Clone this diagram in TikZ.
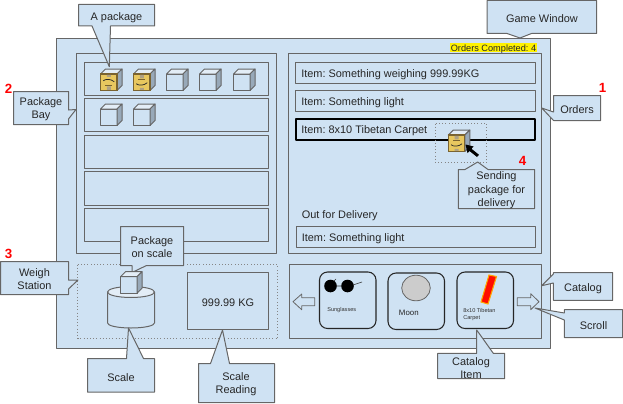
\documentclass[tikz,border=0pt]{standalone}
\usepackage{fontspec}
\setmainfont{Liberation Sans}
\frenchspacing
\definecolor{panelblue}{HTML}{CFE2F3}
\definecolor{edgegray}{HTML}{666666}
\definecolor{lidblue}{HTML}{E3EDF6}
\definecolor{sideblue}{HTML}{98A9B9}
\definecolor{crateyellow}{HTML}{E8C75F}
\definecolor{cratebrown}{HTML}{7A6330}
\definecolor{moongray}{HTML}{CCCCCC}
\newcommand{\crate}[2]{
	\begin{scope}[shift={(#1,#2)}]
		\draw[panel] (0,0) rectangle (16.5,16.5);
		\draw[panel, fill=lidblue] (0,0) -- (5,-5) -- (21.5,-5) -- (16.5,0) -- cycle;
		\draw[panel, fill=sideblue] (16.5,0) -- (21.5,-5) -- (21.5,11.5) -- (16.5,16.5) -- cycle;
	\end{scope}
}
\newcommand{\crateface}[3]{
	\begin{scope}[shift={(#1,#2)}]
		\draw[cratebrown, line width=0.9pt, fill=crateyellow] (0,0) rectangle (16.5,16.5);
		\begin{scope}[shift={(8.25,8.25)}, yscale=#3]
			\fill[cratebrown!60] (-2,-7.5) rectangle (2,-4) (-2,5.5) rectangle (2,7.5);
			\draw[cratebrown, line width=0.5pt] (-3.5,-3) -- (3.5,-3);
			\draw[black!85, line width=0.55pt] (-5.5,1.5) .. controls (-3,3.5) and (2,3.5) .. (5.5,0.5);
		\end{scope}
	\end{scope}
}
\begin{document}
\begin{tikzpicture}[x=0.75pt, y=-0.75pt,
	panel/.style={draw=edgegray, fill=panelblue, line width=0.75pt, line join=round},
	dotbox/.style={draw=edgegray!80, dotted, line width=0.4pt},
	txt/.style={font=\fontsize{8.2}{9.9}\selectfont, text=black!85, inner sep=0pt, align=center, yshift=-1pt},
	itemtxt/.style={txt, anchor=west},
	tiny/.style={font=\fontsize{4.2}{5.6}\selectfont, text=black!80, inner sep=0pt, align=left, anchor=west},
	marker/.style={font=\fontsize{10}{10}\bfseries\selectfont, text=red, inner sep=0pt}]
	\useasboundingbox (0,0) rectangle (623,403);

	% window and panels
	\draw[panel] (56.5,38.5) rectangle (550,348);
	\draw[panel] (76.5,54) rectangle (276,253);
	\draw[panel] (288,54) rectangle (541.7,253);
	\draw[panel] (289,264.5) rectangle (541.7,338);
	\draw[panel] (84,62.5) rectangle (268,95.5);
	\draw[panel] (84,98.5) rectangle (268,131);
	\draw[panel] (84,135) rectangle (268,168);
	\draw[panel] (84,171) rectangle (268,205);
	\draw[panel] (84,208) rectangle (268,241);
	\fill[yellow] (450,42.7) rectangle (537,52.3);
	\node[txt, font=\fontsize{6.9}{8}\selectfont] (ordersDone) at (493.5,47.5) {Orders Completed: 4};

	% orders
	\draw[panel] (295.5,62) rectangle (535,83);
	\draw[panel] (295.5,90) rectangle (535,111.5);
	\draw[panel, draw=black, line width=1.5pt] (295.5,118.5) rectangle (535,140);
	\draw[panel] (296.5,226.5) rectangle (535,247.5);
	\node[itemtxt] (itemHeavy) at (301,73) {Item: Something weighing 999.99KG};
	\node[itemtxt] (itemLight) at (301,101) {Item: Something light};
	\node[itemtxt] (itemCarpet) at (301,129.5) {Item: 8x10 Tibetan Carpet};
	\node[itemtxt] (outLabel) at (301.5,214) {Out for Delivery};
	\node[itemtxt] (itemOut) at (301.5,237.5) {Item: Something light};
	\draw[dotbox] (435.5,123.5) rectangle (486.5,162.5);
	\crate{448.3}{135}
	\crateface{448.3}{135}{1}
	\fill[black] (465.5,144.5) -- (473.5,146.5) -- (471.5,148.8) -- (479,154.8) -- (477,157) -- (469.5,151) -- (467.5,153) -- cycle;

	% package bay
	\foreach \xpos in {166.5,199.5,233.5} {
		\crate{\xpos}{74}
	}
	\crate{100.5}{74}
	\crateface{100.5}{74}{-1}
	\crate{133.5}{74}
	\crateface{133.5}{74}{1}
	\foreach \xpos in {100.5,133.5} {
		\crate{\xpos}{109}
	}

	% weigh station
	\draw[dotbox] (77.5,264.5) rectangle (277.5,338.5);
	\draw[panel] (107.5,292) -- (107.5,323) arc[start angle=180, end angle=360, x radius=23.5, y radius=-5] -- (154.5,292);
	\draw[panel, fill=lidblue] (131,292) ellipse[x radius=23.5, y radius=5.5];
	\draw[panel] (187.5,272.5) rectangle (268.5,329.5);
	\node[txt] (weight) at (228,301) {999.99 KG};

	% catalog
	\draw[panel, line width=0.6pt] (293,301.7) -- (301.7,294) -- (301.7,297.7) -- (314.7,297.7) -- (314.7,305.7) -- (301.7,305.7) -- (301.7,309.7) -- cycle;
	\draw[panel, line width=0.6pt] (539,301.7) -- (530.7,293.7) -- (530.7,297.7) -- (517.3,297.7) -- (517.3,305.7) -- (530.7,305.7) -- (530.7,309.7) -- cycle;
	\foreach \xleft/\ytop in {319.5/272, 388/273, 457/272} {
		\draw[draw=black!85, line width=0.8pt, rounded corners=6pt] (\xleft,\ytop) rectangle ++(56.5,56.5);
	}
	\fill[black] (330.5,286) circle (6.3) (347.5,286) circle (6.3);
	\draw[black!80, line width=0.45pt] (336,286) -- (342,286) (353,285) -- (362,282) (334,281) -- (336,279);
	\node[tiny] (sunglasses) at (327,309.7) {Sunglasses};
	\draw[edgegray, fill=moongray, line width=0.6pt] (416,288) ellipse[x radius=14.3, y radius=12.8];
	\node[txt, font=\fontsize{5.9}{7}\selectfont, anchor=west] (moon) at (398.7,311) {Moon};
	\draw[orange!70!yellow, fill=red!90!orange, line width=0.8pt] (489,275) -- (496.5,276.5) -- (488,304) -- (481,302) -- cycle;
	\node[tiny] (carpet) at (463,314.5) {8x10 Tibetan\\Carpet};

	% callouts
	\draw[panel] (78.5,4.5) -- (154.5,4.5) -- (154.5,26) -- (110.5,26) -- (109.3,66.7) -- (92,26) -- (78.5,26) -- cycle;
	\node[txt] (packageTag) at (116.5,16) {A package};
	\draw[panel] (487,0.5) -- (596.5,0.5) -- (596.5,33.5) -- (531.5,33.5) -- (520,38) -- (507,33.5) -- (487,33.5) -- cycle;
	\node[txt] (windowTag) at (542,17) {Game Window};
	\draw[panel] (553.5,95.5) -- (600.5,95.5) -- (600.5,120.5) -- (553.5,120.5) -- (541.7,108) -- (553.5,112) -- cycle;
	\node[txt] (ordersTag) at (577,108) {Orders};
	\draw[panel] (13.5,91.5) -- (68.5,91.5) -- (68.5,110) -- (76,109.5) -- (68.5,119) -- (68.5,124.5) -- (13.5,124.5) -- cycle;
	\node[txt] (bayTag) at (41,108) {Package\\Bay};
	\draw[panel] (0.5,261.5) -- (68.5,261.5) -- (68.5,280) -- (78,280) -- (68.5,289) -- (68.5,294.5) -- (0.5,294.5) -- cycle;
	\node[txt] (weighTag) at (34.5,278) {Weigh\\Station};
	\draw[panel] (120.5,226.5) -- (183.5,226.5) -- (183.5,265.5) -- (146.5,265.5) -- (132,272.5) -- (132,265.5) -- (120.5,265.5) -- cycle;
	\node[txt] (onScaleTag) at (152,246) {Package\\on scale};
	\crate{120.5}{276.7}
	\draw[panel] (87.5,358.5) -- (126.5,358.5) -- (128.5,328) -- (143.5,358.5) -- (154.5,358.5) -- (154.5,392) -- (87.5,392) -- cycle;
	\node[txt] (scaleTag) at (121,376) {Scale};
	\draw[panel] (198.5,363.5) -- (210.5,363.5) -- (222.5,330) -- (229.5,363.5) -- (274.5,363.5) -- (274.5,402.5) -- (198.5,402.5) -- cycle;
	\node[txt] (readingTag) at (236,383) {Scale\\Reading};
	\draw[panel] (553.3,274) -- (553.3,272.7) -- (612.7,272.7) -- (612.7,300.3) -- (553.3,300.3) -- (553.3,283) -- (541.7,285.7) -- cycle;
	\node[txt] (catalogTag) at (583,287) {Catalog};
	\draw[panel] (564.3,309.7) -- (622.5,309.7) -- (622.5,337.5) -- (564.3,337.5) -- (564.3,320) -- (535,308) -- (564.3,313) -- cycle;
	\node[txt] (scrollTag) at (593.5,324) {Scroll};
	\draw[panel] (437.7,353.3) -- (476.7,353.3) -- (476.7,330) -- (493.3,353.3) -- (504.7,353.3) -- (504.7,378.7) -- (437.7,378.7) -- cycle;
	\node[txt] (itemTag) at (471,366.5) {Catalog\\Item};
	\draw[panel] (458.3,169.5) -- (465,169.5) -- (477.7,162) -- (488,169.5) -- (534.7,169.5) -- (534.7,208.5) -- (458.3,208.5) -- cycle;
	\node[txt] (sendingTag) at (496.5,189) {Sending\\package for\\delivery};

	% step numbers
	\node[marker] (stepOne) at (602.5,88) {1};
	\node[marker] (stepTwo) at (8.5,88.5) {2};
	\node[marker] (stepThree) at (8.5,253.5) {3};
	\node[marker] (stepFour) at (522.5,161) {4};
\end{tikzpicture}
\end{document}
